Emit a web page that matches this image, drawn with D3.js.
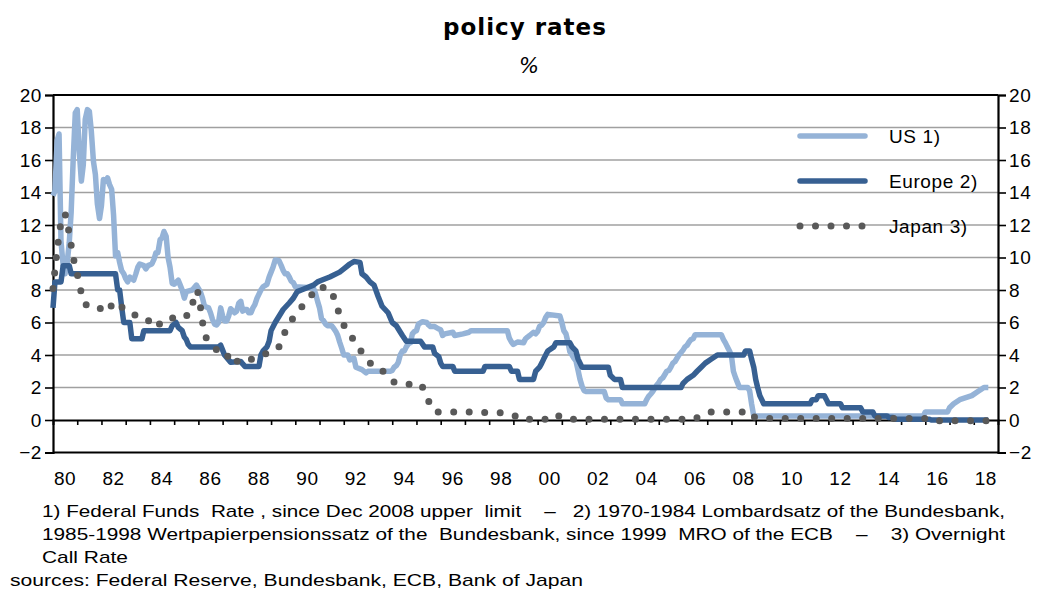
<!DOCTYPE html>
<html>
<head>
<meta charset="utf-8">
<script src="https://cdn.jsdelivr.net/npm/d3@7"></script>
<style>
  body { margin: 0; background: #fff; }
  text { font-family: "Liberation Sans", Arial, sans-serif; fill: #000; }
</style>
</head>
<body>
<div id="chart"></div>
<script>
// policy rates, [decimal year, percent]
const usRate = [
  [1980.0,13.8],[1980.08,14.1],[1980.17,17.2],[1980.25,17.6],[1980.33,11.0],[1980.42,9.5],[1980.5,9.0],
  [1980.58,9.6],[1980.67,10.9],[1980.75,12.8],[1980.83,15.9],[1980.92,18.9],[1981.0,19.1],[1981.08,16.6],
  [1981.17,14.7],[1981.25,15.7],[1981.33,18.5],[1981.42,19.1],[1981.5,19.0],[1981.58,17.8],[1981.67,15.9],
  [1981.75,15.1],[1981.83,13.3],[1981.92,12.4],[1982.0,13.2],[1982.08,14.8],[1982.17,14.7],[1982.25,14.9],
  [1982.33,14.5],[1982.42,14.2],[1982.5,12.6],[1982.58,10.1],[1982.67,10.3],[1982.75,9.7],[1982.83,9.2],
  [1982.92,9.0],[1983.0,8.7],[1983.08,8.5],[1983.17,8.8],[1983.33,8.6],[1983.42,9.0],[1983.5,9.4],
  [1983.58,9.6],[1983.75,9.5],[1983.83,9.3],[1983.92,9.5],[1984.08,9.6],[1984.17,9.9],[1984.25,10.3],
  [1984.33,10.3],[1984.42,11.1],[1984.5,11.2],[1984.58,11.6],[1984.67,11.3],[1984.75,10.0],[1984.83,9.4],
  [1984.92,8.4],[1985.0,8.35],[1985.17,8.6],[1985.25,8.3],[1985.33,8.0],[1985.42,7.5],[1985.5,7.9],
  [1985.75,8.0],[1985.92,8.3],[1986.0,8.1],[1986.08,7.9],[1986.17,7.5],[1986.25,7.0],[1986.42,6.9],
  [1986.5,6.6],[1986.58,6.2],[1986.67,5.9],[1986.75,5.85],[1986.83,6.0],[1986.92,6.9],[1987.0,6.4],
  [1987.08,6.1],[1987.17,6.1],[1987.25,6.4],[1987.33,6.85],[1987.5,6.6],[1987.58,6.7],[1987.67,7.2],
  [1987.75,7.3],[1987.83,6.7],[1987.92,6.8],[1988.0,6.8],[1988.08,6.6],[1988.17,6.6],[1988.25,6.9],
  [1988.33,7.1],[1988.42,7.5],[1988.5,7.75],[1988.58,8.0],[1988.67,8.2],[1988.83,8.35],[1988.92,8.8],
  [1989.0,9.1],[1989.08,9.4],[1989.17,9.85],[1989.33,9.8],[1989.42,9.5],[1989.5,9.2],[1989.58,9.0],
  [1989.67,9.0],[1989.75,8.8],[1989.83,8.55],[1989.92,8.45],[1990.0,8.2],[1990.5,8.15],[1990.75,8.1],
  [1990.83,7.8],[1990.92,7.3],[1991.0,6.9],[1991.08,6.25],[1991.17,6.1],[1991.25,5.9],[1991.33,5.8],
  [1991.5,5.8],[1991.58,5.65],[1991.67,5.45],[1991.75,5.2],[1991.83,4.8],[1991.92,4.4],[1992.0,4.0],
  [1992.17,4.0],[1992.25,3.7],[1992.42,3.8],[1992.5,3.25],[1992.75,3.1],[1992.92,2.9],[1993.0,3.0],
  [1993.92,3.0],[1994.0,3.05],[1994.08,3.25],[1994.17,3.35],[1994.25,3.55],[1994.33,4.0],[1994.42,4.25],
  [1994.5,4.25],[1994.58,4.5],[1994.67,4.7],[1994.75,4.75],[1994.83,5.3],[1994.92,5.45],[1995.0,5.5],
  [1995.08,5.9],[1995.25,6.05],[1995.42,6.0],[1995.5,5.85],[1995.58,5.75],[1995.75,5.75],[1995.92,5.6],
  [1996.0,5.55],[1996.08,5.2],[1996.17,5.3],[1996.5,5.4],[1996.58,5.2],[1996.92,5.3],[1997.17,5.4],
  [1997.25,5.5],[1998.75,5.5],[1998.83,5.05],[1998.92,4.8],[1999.0,4.65],[1999.17,4.8],[1999.42,4.75],
  [1999.5,5.0],[1999.58,5.1],[1999.67,5.2],[1999.83,5.4],[1999.92,5.3],[2000.0,5.45],[2000.08,5.75],
  [2000.17,5.85],[2000.25,6.0],[2000.33,6.3],[2000.42,6.5],[2000.92,6.4],[2001.0,6.0],[2001.08,5.5],
  [2001.17,5.3],[2001.25,4.8],[2001.33,4.2],[2001.42,4.0],[2001.5,3.8],[2001.58,3.65],[2001.67,3.05],
  [2001.75,2.5],[2001.83,2.1],[2001.92,1.8],[2002.0,1.75],[2002.75,1.75],[2002.83,1.35],[2002.92,1.25],
  [2003.42,1.25],[2003.5,1.0],[2004.42,1.0],[2004.5,1.25],[2004.58,1.45],[2004.67,1.6],[2004.75,1.75],
  [2004.83,1.95],[2004.92,2.15],[2005.0,2.3],[2005.08,2.5],[2005.17,2.6],[2005.25,2.8],[2005.33,3.0],
  [2005.42,3.05],[2005.5,3.25],[2005.58,3.5],[2005.67,3.6],[2005.75,3.8],[2005.83,4.0],[2005.92,4.15],
  [2006.0,4.3],[2006.08,4.5],[2006.17,4.6],[2006.25,4.8],[2006.33,4.95],[2006.42,5.0],[2006.5,5.25],
  [2007.58,5.25],[2007.67,4.95],[2007.75,4.75],[2007.83,4.5],[2007.92,4.25],[2008.0,3.95],[2008.08,3.0],
  [2008.17,2.6],[2008.25,2.3],[2008.33,2.0],[2008.67,2.0],[2008.75,1.8],[2008.83,1.0],[2008.92,0.25],
  [2015.92,0.25],[2016.0,0.5],[2016.92,0.5],[2017.0,0.75],[2017.17,1.0],[2017.42,1.25],[2017.92,1.5],
  [2018.17,1.75],[2018.42,2.0],[2018.6,2.0]
];

const europeRate = [
  [1980.0,6.9],[1980.08,8.5],[1980.33,8.5],[1980.42,9.5],[1980.67,9.5],[1980.75,9.0],[1982.58,9.0],
  [1982.67,8.0],[1982.75,8.0],[1982.83,7.0],[1982.92,6.0],[1983.17,6.0],[1983.25,5.0],[1983.67,5.0],
  [1983.75,5.5],[1984.83,5.5],[1984.92,5.8],[1985.08,6.0],[1985.17,5.7],[1985.33,5.5],[1985.42,5.1],
  [1985.5,4.95],[1985.58,4.65],[1985.67,4.5],[1986.83,4.5],[1986.92,4.6],[1987.0,4.3],[1987.08,4.0],
  [1987.33,3.55],[1987.75,3.6],[1987.83,3.45],[1987.92,3.3],[1988.5,3.3],[1988.58,4.0],[1988.67,4.25],
  [1988.83,4.5],[1988.92,4.85],[1989.0,5.5],[1989.17,6.0],[1989.5,6.8],[1989.75,7.2],[1989.92,7.5],
  [1990.08,7.9],[1990.25,8.0],[1990.75,8.3],[1990.92,8.5],[1991.08,8.6],[1991.42,8.8],[1991.83,9.1],
  [1992.0,9.3],[1992.25,9.6],[1992.42,9.75],[1992.67,9.7],[1992.75,9.0],[1992.92,8.8],[1993.08,8.5],
  [1993.25,8.3],[1993.42,7.6],[1993.58,7.0],[1993.83,6.6],[1994.0,6.0],[1994.17,5.8],[1994.42,5.2],
  [1994.58,4.85],[1995.17,4.85],[1995.33,4.5],[1995.67,4.5],[1995.75,4.1],[1995.92,3.9],[1996.0,3.5],
  [1996.08,3.3],[1996.5,3.3],[1996.58,3.0],[1997.75,3.0],[1997.83,3.3],[1998.83,3.3],[1998.92,3.0],
  [1999.17,3.0],[1999.25,2.5],[1999.83,2.5],[1999.92,3.0],[2000.08,3.25],[2000.17,3.5],[2000.25,3.75],
  [2000.42,4.25],[2000.67,4.5],[2000.75,4.75],[2001.33,4.75],[2001.42,4.5],[2001.58,4.25],[2001.67,3.75],
  [2001.83,3.25],[2002.92,3.25],[2003.0,2.75],[2003.17,2.5],[2003.42,2.5],[2003.5,2.0],[2005.92,2.0],
  [2006.0,2.25],[2006.17,2.5],[2006.42,2.75],[2006.58,3.0],[2006.75,3.25],[2006.92,3.5],[2007.17,3.75],
  [2007.42,4.0],[2008.5,4.0],[2008.58,4.25],[2008.75,4.25],[2008.83,3.75],[2008.92,3.25],[2009.0,2.5],
  [2009.08,2.0],[2009.17,1.5],[2009.25,1.25],[2009.33,1.0],[2011.25,1.0],[2011.33,1.25],[2011.5,1.25],
  [2011.58,1.5],[2011.83,1.5],[2011.92,1.25],[2012.0,1.0],[2012.5,1.0],[2012.58,0.75],[2013.33,0.75],
  [2013.42,0.5],[2013.83,0.5],[2013.92,0.25],[2014.42,0.25],[2014.5,0.15],[2014.67,0.15],[2014.75,0.05],
  [2016.17,0.05],[2016.25,0.0],[2018.6,0.0]
];

const japanRate = [
  [1980.0,8.1],[1980.17,10.5],[1980.33,12.2],[1980.5,12.7],[1980.67,11.5],[1980.83,10.0],[1981.0,9.0],
  [1981.17,7.8],[1981.33,7.1],[1981.75,7.1],[1982.0,6.8],[1982.17,6.6],[1982.5,7.2],[1982.67,7.3],
  [1982.92,6.8],[1983.25,6.5],[1983.67,6.4],[1983.92,6.1],[1984.17,6.2],[1984.33,5.8],[1984.58,6.2],
  [1984.83,6.3],[1985.33,6.2],[1985.67,6.6],[1985.83,7.6],[1985.96,8.0],[1986.08,7.0],[1986.25,5.2],
  [1986.5,4.7],[1986.83,4.2],[1987.08,4.25],[1987.42,3.4],[1987.75,3.8],[1988.0,3.7],[1988.42,3.8],
  [1988.67,4.0],[1989.0,4.25],[1989.3,4.4],[1989.5,5.2],[1989.8,6.05],[1990.17,6.8],[1990.58,7.5],
  [1990.92,8.2],[1991.42,8.1],[1991.67,7.3],[1991.83,6.4],[1992.08,5.6],[1992.3,5.2],[1992.55,4.5],
  [1992.92,3.9],[1993.2,3.25],[1993.7,2.95],[1994.1,2.3],[1994.7,2.2],[1995.2,2.2],[1995.45,1.3],
  [1995.75,0.5],[1997.5,0.5],[1998.0,0.45],[1998.67,0.45],[1999.08,0.25],[1999.25,0.05],[2000.58,0.05],
  [2000.67,0.25],[2001.08,0.25],[2001.33,0.05],[2006.5,0.05],[2006.67,0.25],[2007.17,0.5],[2008.83,0.5],
  [2008.92,0.2],[2009.08,0.1],[2016.08,0.1],[2016.25,-0.05],[2018.6,-0.05]
];

const yTicks = [-2, 0, 2, 4, 6, 8, 10, 12, 14, 16, 18, 20];
const yearTicks = d3.range(1981, 2019);
const yearLabels = ["80","82","84","86","88","90","92","94","96","98","00","02","04","06","08","10","12","14","16","18"];

const seriesNames = ["US 1)", "Europe 2)", "Japan 3)"];
const colors = {us: "#95B3D7", europe: "#376092", japan: "#595959"};

const footnotes = [
  "1) Federal Funds  Rate , since Dec 2008 upper  limit    \u2013   2) 1970-1984 Lombardsatz of the Bundesbank,",
  "1985-1998 Wertpapierpensionssatz of the  Bundesbank, since 1999  MRO of the ECB    \u2013    3) Overnight",
  "Call Rate"
];
const sourceText = "sources: Federal Reserve, Bundesbank, ECB, Bank of Japan";

const W = 1046, H = 593;
const svg = d3.select("#chart").append("svg")
  .attr("width", W).attr("height", H);

const x = d3.scaleLinear().domain([1980, 2019]).range([53, 998]);
const y = d3.scaleLinear().domain([-2, 20]).range([452.5, 95]);

// title
svg.append("text").attr("x", 525).attr("y", 35)
  .attr("text-anchor", "middle")
  .style("font-family", "'DejaVu Sans', Verdana, sans-serif")
  .style("font-weight", "bold").style("font-size", "23px")
  .style("letter-spacing", "1px")
  .text("policy rates");
svg.append("text").attr("x", 529).attr("y", 73)
  .attr("text-anchor", "middle")
  .style("font-family", "'DejaVu Sans', Verdana, sans-serif")
  .style("font-style", "italic").style("font-size", "21px")
  .text("%");

// grid lines
svg.append("g").selectAll("line")
  .data(yTicks.filter(d => d > 0 && d < 20))
  .enter().append("line")
  .attr("x1", x(1980)).attr("x2", x(2019))
  .attr("y1", d => y(d)).attr("y2", d => y(d))
  .attr("stroke", "#a0a0a0").attr("stroke-width", 1.6);

// left / right axes
const yLeft = svg.append("g").attr("transform", `translate(${x(1980)},0)`)
  .call(d3.axisLeft(y).tickValues(yTicks).tickSize(8).tickPadding(3));
const yRight = svg.append("g").attr("transform", `translate(${x(2019)},0)`)
  .call(d3.axisRight(y).tickValues(yTicks).tickSize(8).tickPadding(3));
[yLeft, yRight].forEach(g => {
  g.select(".domain").attr("stroke", "#000").attr("stroke-width", 2.2);
  g.selectAll(".tick line").attr("stroke", "#000").attr("stroke-width", 1.6);
  g.selectAll(".tick text")
    .style("font-family", "'Liberation Sans', Arial, sans-serif")
    .style("font-size", "19px").style("letter-spacing", "0.6px").attr("fill", "#000");
});

// top and bottom border
[20, -2].forEach(v => {
  svg.append("line").attr("x1", x(1980)).attr("x2", x(2019))
    .attr("y1", y(v)).attr("y2", y(v))
    .attr("stroke", "#000").attr("stroke-width", 2.2);
});

// zero line with year ticks
const xAxis = svg.append("g").attr("transform", `translate(0,${y(0)})`)
  .call(d3.axisBottom(x).tickValues(yearTicks).tickSize(5).tickFormat(""));
xAxis.select(".domain").attr("stroke", "#000").attr("stroke-width", 2);
xAxis.selectAll(".tick line").attr("stroke", "#000").attr("stroke-width", 1.6);

// year labels, centred in the year interval
svg.append("g").selectAll("text")
  .data(yearLabels)
  .enter().append("text")
  .attr("x", (d, i) => x(1980 + 2 * i + 0.5))
  .attr("y", 485)
  .attr("text-anchor", "middle")
  .style("font-size", "19px").style("letter-spacing", "0.6px")
  .text(d => d);

// series
const line = d3.line().x(d => x(d[0])).y(d => y(d[1])).curve(d3.curveLinear);

svg.append("path").datum(usRate)
  .attr("d", line).attr("fill", "none")
  .attr("stroke", colors.us).attr("stroke-width", 5.5)
  .attr("stroke-linejoin", "round");

svg.append("path").datum(europeRate)
  .attr("d", line).attr("fill", "none")
  .attr("stroke", colors.europe).attr("stroke-width", 5.5)
  .attr("stroke-linejoin", "round");

svg.append("path").datum(japanRate)
  .attr("d", line).attr("fill", "none")
  .attr("stroke", colors.japan).attr("stroke-width", 7)
  .attr("stroke-linecap", "round")
  .attr("stroke-dasharray", "0 15.5");

// legend
const legend = svg.append("g");
const legendY = [136, 181, 226];
legend.append("line").attr("x1", 800).attr("x2", 865).attr("y1", legendY[0]).attr("y2", legendY[0])
  .attr("stroke", colors.us).attr("stroke-width", 5.5).attr("stroke-linecap", "round");
legend.append("line").attr("x1", 800).attr("x2", 865).attr("y1", legendY[1]).attr("y2", legendY[1])
  .attr("stroke", colors.europe).attr("stroke-width", 5.5).attr("stroke-linecap", "round");
legend.append("line").attr("x1", 800).attr("x2", 863).attr("y1", legendY[2]).attr("y2", legendY[2])
  .attr("stroke", colors.japan).attr("stroke-width", 7).attr("stroke-linecap", "round")
  .attr("stroke-dasharray", "0 15.5");
legend.selectAll("text")
  .data(seriesNames)
  .enter().append("text")
  .attr("x", 889).attr("y", (d, i) => legendY[i] + 7)
  .style("font-size", "19px").style("letter-spacing", "0.6px")
  .text(d => d);

// footnotes
const notes = svg.append("g");
notes.append("text").attr("x", 42).attr("y", 517)
  .attr("textLength", 963).attr("lengthAdjust", "spacingAndGlyphs")
  .style("font-size", "17px").style("white-space", "pre")
  .text(footnotes[0]);
notes.append("text").attr("x", 42).attr("y", 540)
  .attr("textLength", 963).attr("lengthAdjust", "spacingAndGlyphs")
  .style("font-size", "17px").style("white-space", "pre")
  .text(footnotes[1]);
notes.append("text").attr("x", 42).attr("y", 563)
  .attr("textLength", 86).attr("lengthAdjust", "spacingAndGlyphs")
  .style("font-size", "17px")
  .text(footnotes[2]);
notes.append("text").attr("x", 10).attr("y", 586)
  .attr("textLength", 573).attr("lengthAdjust", "spacingAndGlyphs")
  .style("font-size", "17px")
  .text(sourceText);
</script>
</body>
</html>
